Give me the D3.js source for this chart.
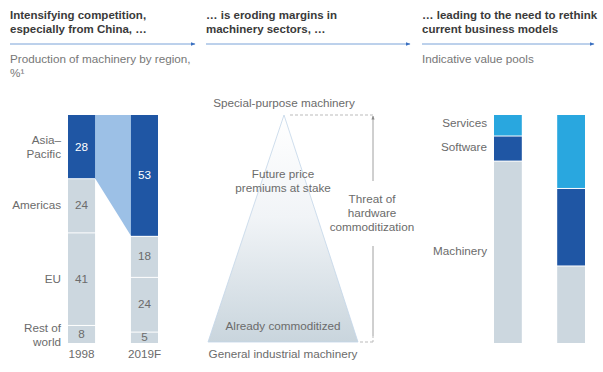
<!DOCTYPE html>
<html>
<head>
<meta charset="utf-8">
<script src="https://cdn.jsdelivr.net/npm/d3@7"></script>
<style>
body { margin: 0; background: #fff; }
text { font-family: "Liberation Sans", Arial, sans-serif; }
</style>
</head>
<body>
<div id="chart"></div>
<script>
// production of machinery by region, %
var regions = ["Asia–Pacific", "Americas", "EU", "Rest of world"];
var years = ["1998", "2019F"];
var share1998 = [28, 24, 41, 8];
var share2019 = [53, 18, 24, 5];

// indicative value pools
var pools = ["Services", "Software", "Machinery"];
var poolToday = [9, 11, 80];
var poolFuture = [32, 34, 34];

var headers = [
	["Intensifying competition,", "especially from China, …"],
	["… is eroding margins in", "machinery sectors, …"],
	["… leading to the need to rethink", "current business models"]
];
var subtitles = [["Production of machinery by region,", "%¹"], [], ["Indicative value pools"]];

var width = 603, height = 372;
var dark = "#1f56a4", light = "#ccd7df", sky = "#29a7df", link = "#9cc0e6";
var textGray = "#6b6b6b";
var fs = 11.7;

var svg = d3.select("#chart").append("svg")
	.attr("width", width)
	.attr("height", height);

var defs = svg.append("defs");
defs.append("marker")
	.attr("id", "head")
	.attr("viewBox", "0 0 10 10")
	.attr("refX", 9).attr("refY", 5)
	.attr("markerWidth", 5).attr("markerHeight", 5)
	.attr("orient", "auto")
	.append("path").attr("d", "M0,1L10,5L0,9Z").attr("fill", "#3a6fc0");
defs.append("marker")
	.attr("id", "headGray")
	.attr("viewBox", "0 0 10 10")
	.attr("refX", 9).attr("refY", 5)
	.attr("markerWidth", 5).attr("markerHeight", 5)
	.attr("orient", "auto")
	.append("path").attr("d", "M0,1L10,5L0,9Z").attr("fill", "#888");

var grad = defs.append("linearGradient")
	.attr("id", "tri").attr("x1", 0).attr("y1", 0).attr("x2", 0).attr("y2", 1);
grad.append("stop").attr("offset", "0%").attr("stop-color", "#ffffff");
grad.append("stop").attr("offset", "45%").attr("stop-color", "#f1f4f7");
grad.append("stop").attr("offset", "100%").attr("stop-color", "#c9d5dd");

// ---- header columns
var cols = [{x0: 10, x1: 195}, {x0: 206, x1: 410}, {x0: 422, x1: 594}];
cols.forEach(function(c, i) {
	var t = svg.append("text").attr("x", c.x0).attr("y", 19)
		.attr("font-size", 11.5).attr("font-weight", 600).attr("fill", "#3a3a3a");
	headers[i].forEach(function(line, j) {
		t.append("tspan").attr("x", c.x0).attr("dy", j ? 14 : 0).text(line);
	});
	svg.append("line")
		.attr("x1", c.x0).attr("x2", c.x1)
		.attr("y1", 44).attr("y2", 44)
		.attr("stroke", "#7aa3d8").attr("stroke-width", 1)
		.attr("marker-end", "url(#head)");
	var s = svg.append("text").attr("x", c.x0).attr("y", 63)
		.attr("font-size", fs).attr("fill", "#777");
	subtitles[i].forEach(function(line, j) {
		s.append("tspan").attr("x", c.x0).attr("dy", j ? 14 : 0).text(line);
	});
});

// ---- left panel: stacked bars
var yTop = 115, yBottom = 343;
var xBar = d3.scaleBand().domain(years).range([68, 158]).paddingInner(0.57);

function stack(vals) {
	var total = d3.sum(vals), acc = 0;
	var y = d3.scaleLinear().domain([0, total]).range([yTop, yBottom]);
	return vals.map(function(v, i) {
		var s = {i: i, v: v, y0: y(acc), y1: y(acc + v)};
		acc += v;
		return s;
	});
}
var st1998 = stack(share1998), st2019 = stack(share2019);

// connector between the asia-pacific segments
var xa = xBar("1998") + xBar.bandwidth(), xb = xBar("2019F");
svg.append("path")
	.attr("d", d3.line()([[xa, st1998[0].y0], [xb, st2019[0].y0], [xb, st2019[0].y1], [xa, st1998[0].y1]]) + "Z")
	.attr("fill", link);

[[years[0], st1998], [years[1], st2019]].forEach(function(pair) {
	var g = svg.append("g");
	g.selectAll("rect").data(pair[1]).enter().append("rect")
		.attr("x", xBar(pair[0]))
		.attr("width", xBar.bandwidth())
		.attr("y", function(d) { return d.y0 + (d.i ? 1 : 0); })
		.attr("height", function(d) { return d.y1 - d.y0 - (d.i ? 1 : 0); })
		.attr("fill", function(d) { return d.i == 0 ? dark : light; });
	g.selectAll("text").data(pair[1]).enter().append("text")
		.attr("x", xBar(pair[0]) + xBar.bandwidth() / 2)
		.attr("y", function(d) { return (d.y0 + d.y1) / 2 + 4; })
		.attr("text-anchor", "middle")
		.attr("font-size", fs)
		.attr("fill", function(d) { return d.i == 0 ? "#fff" : textGray; })
		.text(function(d) { return d.v; });
	svg.append("text")
		.attr("x", xBar(pair[0]) + xBar.bandwidth() / 2)
		.attr("y", 358)
		.attr("text-anchor", "middle")
		.attr("font-size", fs).attr("fill", textGray)
		.text(pair[0]);
});

// region labels
var regionLines = [["Asia–", "Pacific"], ["Americas"], ["EU"], ["Rest of", "world"]];
st1998.forEach(function(d, i) {
	var lines = regionLines[i];
	var mid = (d.y0 + d.y1) / 2 + 4 - (lines.length - 1) * 7;
	if (i == 3) mid = 332;
	var t = svg.append("text").attr("x", 61).attr("y", mid)
		.attr("text-anchor", "end").attr("font-size", fs).attr("fill", textGray);
	lines.forEach(function(l, j) {
		t.append("tspan").attr("x", 61).attr("dy", j ? 14 : 0).text(l);
	});
});

// ---- middle panel: pyramid
var apex = [284, 115], baseL = [208, 342], baseR = [358, 342];
svg.append("path")
	.attr("d", d3.line()([apex, baseR, baseL]) + "Z")
	.attr("fill", "url(#tri)")
	.attr("stroke", "#c3d5e8").attr("stroke-width", 0.8);

function centred(x, y, lines) {
	var t = svg.append("text").attr("x", x).attr("y", y)
		.attr("text-anchor", "middle").attr("font-size", fs).attr("fill", textGray);
	lines.forEach(function(l, j) {
		t.append("tspan").attr("x", x).attr("dy", j ? 14 : 0).text(l);
	});
}
centred(284, 107, ["Special-purpose machinery"]);
centred(283, 358, ["General industrial machinery"]);
centred(283, 178, ["Future price", "premiums at stake"]);
centred(283, 330, ["Already commoditized"]);
centred(372, 203, ["Threat of", "hardware", "commoditization"]);

var dash = "3,2";
svg.append("line").attr("x1", 290).attr("x2", 373).attr("y1", 115).attr("y2", 115)
	.attr("stroke", "#bbb").attr("stroke-dasharray", dash);
svg.append("line").attr("x1", 360).attr("x2", 373).attr("y1", 342).attr("y2", 342)
	.attr("stroke", "#bbb").attr("stroke-dasharray", dash);
svg.append("line").attr("x1", 373).attr("x2", 373).attr("y1", 342).attr("y2", 336)
	.attr("stroke", "#bbb").attr("stroke-dasharray", "2,2");
svg.append("line").attr("x1", 373).attr("x2", 373).attr("y1", 336).attr("y2", 246)
	.attr("stroke", "#888").attr("stroke-width", 0.8);
svg.append("line").attr("x1", 373).attr("x2", 373).attr("y1", 181).attr("y2", 116)
	.attr("stroke", "#888").attr("stroke-width", 0.8)
	.attr("marker-end", "url(#headGray)");

// ---- right panel: value pools
var xPool = d3.scaleBand().domain(["today", "future"]).range([494, 585]).paddingInner(0.56);
var poolColor = d3.scaleOrdinal().domain(pools).range([sky, dark, light]);
[["today", stack(poolToday)], ["future", stack(poolFuture)]].forEach(function(pair) {
	svg.append("g").selectAll("rect").data(pair[1]).enter().append("rect")
		.attr("x", xPool(pair[0]))
		.attr("width", xPool.bandwidth())
		.attr("y", function(d) { return d.y0 + (d.i ? 1 : 0); })
		.attr("height", function(d) { return d.y1 - d.y0 - (d.i ? 1 : 0); })
		.attr("fill", function(d) { return poolColor(pools[d.i]); });
});
var poolY = [127, 151, 255];
pools.forEach(function(p, i) {
	svg.append("text").attr("x", 487).attr("y", poolY[i])
		.attr("text-anchor", "end").attr("font-size", fs).attr("fill", textGray)
		.text(p);
});
</script>
</body>
</html>
